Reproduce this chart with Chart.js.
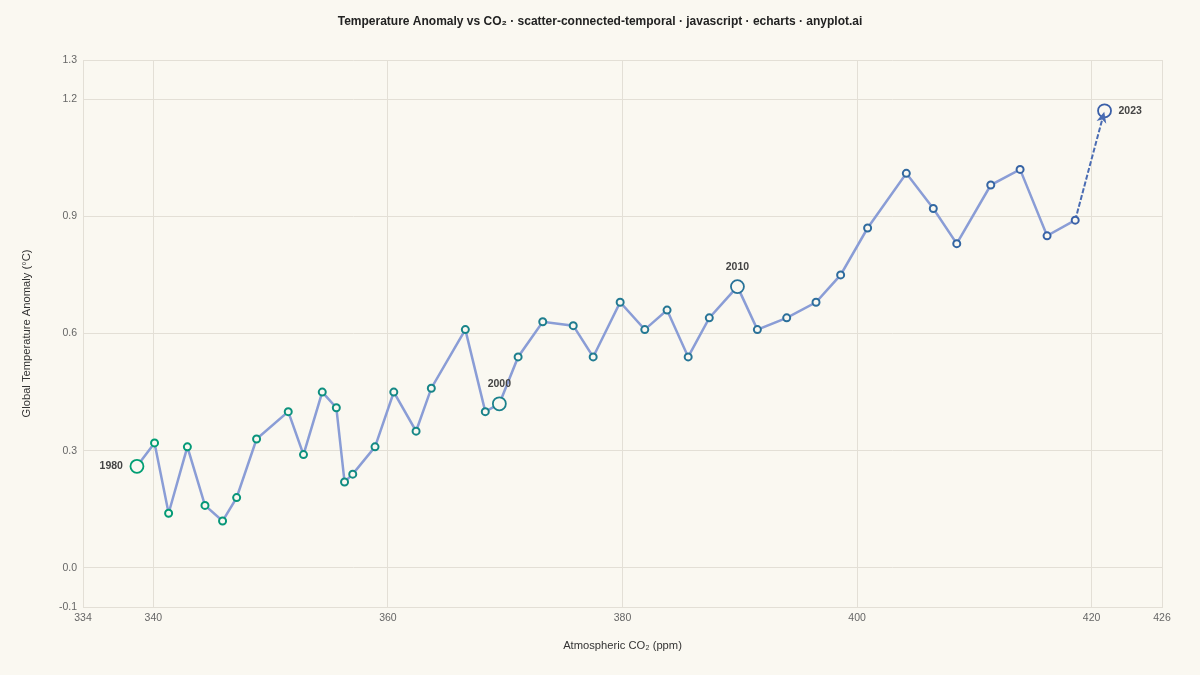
<!DOCTYPE html>
<html>
<head>
<meta charset="utf-8">
<script src="https://cdn.jsdelivr.net/npm/chart.js@4/dist/chart.umd.min.js"></script>
<style>
  html, body { margin: 0; padding: 0; background: #FAF8F1; }
  #wrap { width: 1200px; height: 675px; }
</style>
</head>
<body>
<div id="wrap"><canvas id="myChart" width="1200" height="675"></canvas></div>
<script>
// data
const years = [1980, 1981, 1982, 1983, 1984, 1985, 1986, 1987, 1988, 1989,
               1990, 1991, 1992, 1993, 1994, 1995, 1996, 1997, 1998, 1999,
               2000, 2001, 2002, 2003, 2004, 2005, 2006, 2007, 2008, 2009,
               2010, 2011, 2012, 2013, 2014, 2015, 2016, 2017, 2018, 2019,
               2020, 2021, 2022, 2023];
const co2 = [338.6, 340.1, 341.3, 342.9, 344.4, 345.9, 347.1, 348.8, 351.5, 352.8,
             354.4, 355.6, 356.3, 357.0, 358.9, 360.5, 362.4, 363.7, 366.6, 368.3,
             369.5, 371.1, 373.2, 375.8, 377.5, 379.8, 381.9, 383.8, 385.6, 387.4,
             389.8, 391.5, 394.0, 396.5, 398.6, 400.9, 404.2, 406.5, 408.5, 411.4,
             413.9, 416.2, 418.6, 421.1];
const anomaly = [0.26, 0.32, 0.14, 0.31, 0.16, 0.12, 0.18, 0.33, 0.40, 0.29,
                 0.45, 0.41, 0.22, 0.24, 0.31, 0.45, 0.35, 0.46, 0.61, 0.40,
                 0.42, 0.54, 0.63, 0.62, 0.54, 0.68, 0.61, 0.66, 0.54, 0.64,
                 0.72, 0.61, 0.64, 0.68, 0.75, 0.87, 1.01, 0.92, 0.83, 0.98,
                 1.02, 0.85, 0.89, 1.17];
const labelYears = [1980, 2000, 2010, 2023];
const xTicks = [334, 340, 360, 380, 400, 420, 426];
const yTicks = [-0.1, 0.0, 0.3, 0.6, 0.9, 1.2, 1.3];
const titleText = 'Temperature Anomaly vs CO\u2082 \u00b7 scatter-connected-temporal \u00b7 javascript \u00b7 echarts \u00b7 anyplot.ai';

const BG = '#FAF8F1';
const GRID = '#E3DFD6';
const FONT = '"Liberation Sans", Arial, sans-serif';
const last = years.length - 1;

// green (early) -> blue (late)
function yearColor(i) {
  const a = [0, 158, 115], b = [58, 95, 168];
  const t = i / last;
  const c = a.map((v, k) => Math.round(v + (b[k] - v) * t));
  return 'rgb(' + c.join(',') + ')';
}

const points = years.map((y, i) => ({ x: co2[i], y: anomaly[i], year: y }));
const isLabeled = i => labelYears.indexOf(years[i]) >= 0;

// year labels + arrow head on the final step
const annotate = {
  id: 'annotate',
  afterDatasetsDraw(chart) {
    const ctx = chart.ctx;
    const xs = chart.scales.x, ys = chart.scales.y;
    const px = i => xs.getPixelForValue(co2[i]);
    const py = i => ys.getPixelForValue(anomaly[i]);

    // arrow
    const x0 = px(last - 1), y0 = py(last - 1), x1 = px(last), y1 = py(last);
    const ang = Math.atan2(y1 - y0, x1 - x0);
    const tipX = x1 - Math.cos(ang) * 1, tipY = y1 - Math.sin(ang) * 1;
    ctx.save();
    ctx.fillStyle = '#4A6CB3';
    ctx.translate(tipX, tipY);
    ctx.rotate(ang);
    ctx.beginPath();
    ctx.moveTo(0, 0);
    ctx.lineTo(-11, -5);
    ctx.lineTo(-8, 0);
    ctx.lineTo(-11, 5);
    ctx.closePath();
    ctx.fill();
    ctx.restore();

    ctx.save();
    ctx.font = 'bold 10.5px ' + FONT;
    ctx.fillStyle = '#444';
    ctx.textBaseline = 'middle';
    labelYears.forEach(yr => {
      const i = years.indexOf(yr);
      const x = px(i), y = py(i);
      if (i === 0) {
        ctx.textAlign = 'right';
        ctx.fillText(String(yr), x - 14, y);
      } else if (i === last) {
        ctx.textAlign = 'left';
        ctx.fillText(String(yr), x + 14, y);
      } else {
        ctx.textAlign = 'center';
        ctx.fillText(String(yr), x, y - 20);
      }
    });
    ctx.restore();
  }
};

// background + page title centred on the page
const bgPlugin = {
  id: 'bg',
  beforeDraw(chart) {
    const ctx = chart.ctx;
    ctx.save();
    ctx.fillStyle = BG;
    ctx.fillRect(0, 0, chart.width, chart.height);
    ctx.font = 'bold 12px ' + FONT;
    ctx.fillStyle = '#222';
    ctx.textAlign = 'center';
    ctx.textBaseline = 'middle';
    ctx.fillText(titleText, chart.width / 2, 22);
    ctx.restore();
  }
};

const ctx = document.getElementById('myChart').getContext('2d');
const myChart = new Chart(ctx, {
  type: 'scatter',
  data: {
    datasets: [{
      data: points,
      showLine: true,
      borderColor: '#8A9DD6',
      borderWidth: 2.5,
      segment: {
        borderColor: c => c.p1DataIndex === last ? '#4A6CB3' : undefined,
        borderDash: c => c.p1DataIndex === last ? [5, 2] : undefined,
        borderWidth: c => c.p1DataIndex === last ? 2 : undefined
      },
      pointRadius: c => isLabeled(c.dataIndex) ? 6.5 : 3.5,
      pointBorderWidth: c => isLabeled(c.dataIndex) ? 1.8 : 2,
      pointBorderColor: c => yearColor(c.dataIndex),
      pointBackgroundColor: BG
    }]
  },
  options: {
    responsive: false,
    animation: false,
    events: [],
    layout: { padding: { left: 20, right: 38, top: 60, bottom: 15 } },
    plugins: {
      legend: { display: false },
      tooltip: { enabled: false },
      title: { display: false }
    },
    scales: {
      x: {
        type: 'linear',
        min: 334,
        max: 426,
        afterBuildTicks: s => { s.ticks = xTicks.map(v => ({ value: v })); },
        afterFit: s => { s.height = 53; },
        grid: { color: GRID, drawTicks: false },
        border: { color: GRID },
        ticks: {
          color: '#666',
          padding: 5,
          font: { family: FONT, size: 10.5 },
          callback: v => String(v)
        },
        title: {
          display: true,
          text: 'Atmospheric CO\u2082 (ppm)',
          color: '#333',
          font: { family: FONT, size: 11.2 },
          padding: { top: 0, bottom: 7 }
        }
      },
      y: {
        min: -0.1,
        max: 1.3,
        afterBuildTicks: s => { s.ticks = yTicks.map(v => ({ value: v })); },
        afterFit: s => { s.width = 63; },
        grid: { color: GRID, drawTicks: false },
        border: { color: GRID },
        ticks: {
          color: '#666',
          padding: 6,
          font: { family: FONT, size: 10.5 },
          callback: v => v.toFixed(1)
        },
        title: {
          display: true,
          text: 'Global Temperature Anomaly (\u00b0C)',
          color: '#333',
          font: { family: FONT, size: 11.2 },
          padding: 0
        }
      }
    }
  },
  plugins: [bgPlugin, annotate]
});
</script>
</body>
</html>
